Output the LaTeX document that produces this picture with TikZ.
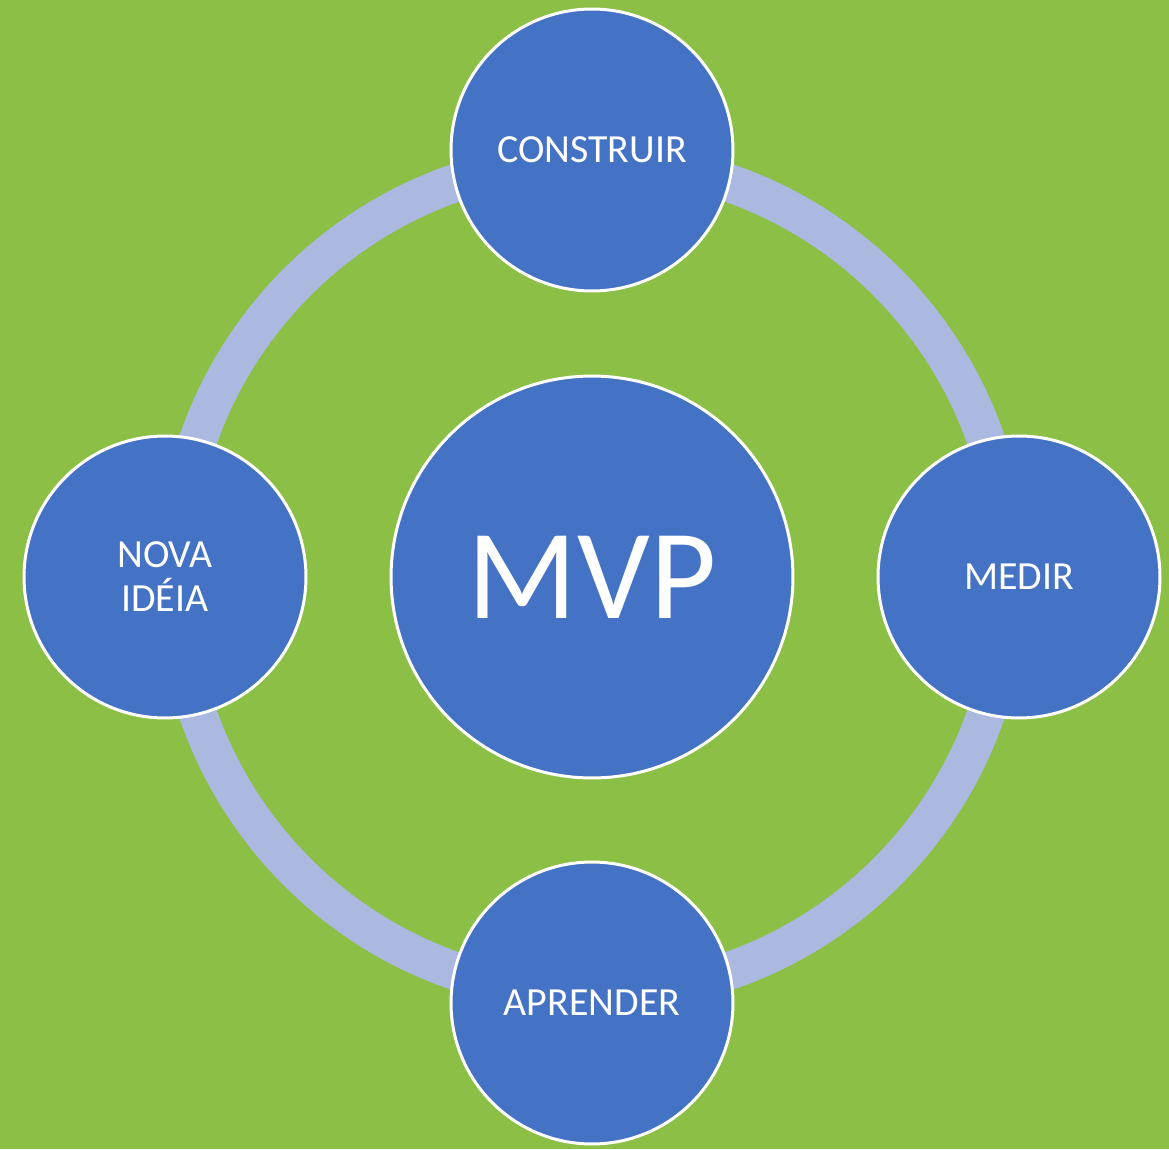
\documentclass[tikz,border=0pt]{standalone}
\usepackage{fontspec}
\setmainfont{Carlito}
\usepackage{xcolor}
\definecolor{bggreen}{HTML}{8CBF45}
\definecolor{stepblue}{HTML}{4472C4}
\definecolor{ringblue}{HTML}{ABB9E0}

\begin{document}
\begin{tikzpicture}[x=0.02cm,y=-0.02cm]
\tikzset{
    stage/.style={%
        draw=white, line width=1.7pt,
        fill=stepblue,
        circle,
        minimum size=5.64cm,
        text=white,
        font=\fontsize{22.7}{26}\selectfont,
        align=center
        },
    core/.style={%
        draw=white, line width=1.7pt,
        fill=stepblue,
        circle,
        minimum size=8.04cm,
        text=white,
        font=\fontsize{73}{80}\selectfont
        },
}
%%%BACKGROUND
\fill[bggreen] (0,0) rectangle (1169,1149);
\useasboundingbox (0,0) rectangle (1169,1149);
%%%RING
\coordinate (mid) at (592,577);
\draw[ringblue, line width=0.76cm] (mid) circle (417);
%%%STAGES
\node[core] (mvp) at (mid) {MVP};
\node[stage] (construir) at (592,150) {CONSTRUIR};
\node[stage] (medir) at (1019,577) {MEDIR};
\node[stage] (aprender) at (592,1003) {APRENDER};
\node[stage] (ideia) at (165,577) {NOVA\\[-1pt]IDÉIA};
\end{tikzpicture}
\end{document}
